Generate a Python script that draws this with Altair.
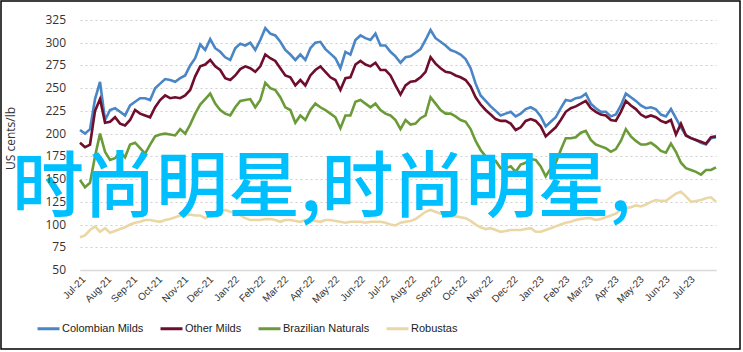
import altair as alt
import pandas as pd

series_names = ["Colombian Milds", "Other Milds", "Brazilian Naturals", "Robustas"]
series_colors = ["#4A86C5", "#6F0E2C", "#6A9B38", "#EBD7A6"]

colombian = [
    204, 200, 205, 238, 257, 215, 226, 228, 224, 220,
    231, 235, 239, 239, 237, 250, 255, 260, 259, 257,
    261, 264, 275, 283, 298, 292, 304, 294, 290, 284,
    281, 294, 299, 297, 300, 292, 303, 316, 310, 308,
    301, 292, 287, 281, 287, 281, 294, 300, 301, 293,
    288, 283, 272, 290, 287, 303, 308, 305, 303, 310,
    297, 297, 290, 285, 278, 284, 285, 289, 293, 303,
    314, 305, 301, 297, 292, 290, 287, 282, 272, 255,
    242, 236, 230, 225, 220, 222, 224, 219, 222, 227,
    229, 226, 219, 208, 213, 218, 228, 237, 236, 239,
    240, 244, 233, 228, 224, 224, 219, 221, 231, 244,
    240, 236, 231, 228, 229, 227, 221, 219, 227, 217,
    207, 198, 195, 193, 190, 188, 195, 196,
]
other_milds = [
    190, 185, 188, 225, 238, 212, 213, 218, 211, 209,
    215, 226, 222, 220, 218, 229, 237, 242, 239, 240,
    239, 242, 248, 263, 274, 276, 281, 274, 270, 261,
    259, 264, 271, 274, 272, 268, 274, 287, 283, 280,
    272, 264, 262, 253, 259, 253, 264, 270, 274, 268,
    262, 259, 248, 261, 262, 276, 280, 276, 274, 278,
    270, 270, 264, 253, 243, 253, 257, 258, 262, 268,
    284, 277, 272, 268, 267, 264, 262, 259, 252, 240,
    232, 226, 221, 216, 214, 214, 211, 204, 207, 214,
    216, 214, 208, 197, 202, 207, 215, 224, 228, 230,
    233, 236, 228, 224, 221, 220, 215, 214, 224, 236,
    231, 227, 221, 218, 220, 218, 214, 212, 215, 199,
    211, 198, 195, 193, 191, 189, 196, 197,
]
brazilian = [
    149, 141, 146, 175, 200, 180, 171, 173, 180, 174,
    188, 190, 184, 178, 188, 197, 199, 200, 199, 198,
    205, 200, 210, 222, 232, 238, 244, 233, 226, 222,
    220, 229, 236, 237, 238, 229, 237, 256, 250, 248,
    240, 229, 226, 212, 220, 215, 226, 233, 229, 226,
    222, 218, 206, 220, 220, 235, 237, 233, 229, 233,
    226, 222, 220, 215, 205, 215, 210, 211, 217, 220,
    240, 233, 226, 222, 222, 219, 215, 213, 205, 192,
    182, 175, 170, 170, 162, 162, 164, 158, 166, 168,
    172, 171, 164, 153, 162, 168, 182, 195, 195, 196,
    201, 203, 193, 188, 186, 184, 180, 183, 192, 205,
    197, 192, 188, 188, 190, 186, 181, 179, 189, 180,
    168, 162, 160, 158, 155, 160, 160, 163,
]
robustas = [
    86, 88, 94, 98, 92, 96, 91, 93, 95, 97,
    100, 102, 103, 105, 105, 104, 103, 105, 106, 108,
    110, 110, 111, 110, 110, 107, 110, 112, 114, 116,
    114, 113, 110, 107, 105, 105, 105, 106, 106, 105,
    103, 105, 105, 104, 103, 105, 105, 104, 103, 105,
    105, 104, 103, 102, 103, 103, 103, 102, 103, 103,
    103, 102, 100, 99, 102, 103, 104, 106, 110, 114,
    116, 114, 112, 112, 110, 109, 108, 107, 104, 100,
    97, 95, 96, 94, 92, 93, 94, 94, 94, 95,
    96, 92, 92, 94, 96, 98, 100, 102, 103, 105,
    106, 107, 107, 105, 106, 108, 110, 112, 116, 118,
    119, 121, 120, 122, 125, 127, 126, 126, 130, 134,
    136, 131, 125, 126, 127, 129, 130, 125,
]

dates = pd.date_range("2021-07-01", periods=len(colombian), freq="6D").strftime("%Y-%m-%d")
tick_months = pd.date_range("2021-07-01", "2023-07-01", freq="MS")
y_ticks = [50, 75, 100, 125, 150, 175, 200, 225, 250, 275, 300, 325]
overlay_text = "时尚明星,时尚明星,"

rows = []
for name, vals in zip(series_names, [colombian, other_milds, brazilian, robustas]):
    for d, v in zip(dates, vals):
        rows.append({"date": d, "series": name, "value": v})
df = pd.DataFrame(rows)

x_enc = alt.X(
    "date:T",
    scale=alt.Scale(
        type="utc",
        domain=[alt.DateTime(year=2021, month=7, date=1, utc=True),
                alt.DateTime(year=2023, month=8, date=2, utc=True)],
    ),
    axis=alt.Axis(
        labelExpr="utcFormat(datum.value, '%b-%y')", labelAngle=-45, labelOverlap=False,
        values=[alt.DateTime(year=t.year, month=t.month, date=1, utc=True) for t in tick_months],
        grid=False, ticks=False, domain=True, domainColor="#D9D9D9", domainWidth=1.5,
        labelFont="Liberation Sans", labelFontSize=10, labelColor="#333333",
        labelPadding=4, title=None,
    ),
)
y_enc = alt.Y(
    "value:Q",
    scale=alt.Scale(domain=[50, 325], nice=False, zero=False),
    axis=alt.Axis(
        values=y_ticks, grid=True, gridColor="#CFCFCF", gridDash=[2, 3], gridWidth=1.2,
        labels=False, ticks=False, domain=False, title="US cents/lb",
        titleFont="Open Sans", titleFontSize=12, titleFontWeight="normal",
        titleColor="#333333", titleX=-70, titleY=118, titleAngle=-90,
        titleAlign="center", titleBaseline="middle",
    ),
)

lines = alt.Chart(df).mark_line(strokeWidth=2.6).encode(
    x=x_enc,
    y=y_enc,
    color=alt.Color(
        "series:N",
        scale=alt.Scale(domain=series_names, range=series_colors),
        legend=alt.Legend(
            orient="none", direction="horizontal", legendX=-44, legendY=296,
            symbolType="stroke", symbolStrokeWidth=3, symbolSize=484,
            labelFont="Liberation Sans", labelFontSize=11, labelColor="#222222",
            columnPadding=10, labelOffset=1, title=None,
        ),
    ),
    order=alt.Order("series:N"),
)

text = alt.Chart(pd.DataFrame({"t": [overlay_text]})).mark_text(
    align="left", baseline="middle", font="Noto Sans CJK SC", fontSize=72,
    fontWeight=500, color="#00BFFF",
).encode(text="t:N", x=alt.value(-68), y=alt.value(169))

y_labels = alt.Chart(pd.DataFrame({"value": y_ticks})).mark_text(
    align="right", baseline="middle", font="Open Sans", fontSize=12, color="#333333",
).encode(y=y_enc, text=alt.Text("value:Q"), x=alt.value(-14))

border = alt.Chart(pd.DataFrame({"a": [0]})).mark_rect(
    filled=False, stroke="#000000", strokeWidth=1.5,
).encode(x=alt.value(-79), x2=alt.value(660), y=alt.value(-19), y2=alt.value(329))

chart = alt.layer(lines, text, y_labels, border).properties(
    width=636, height=250,
    autosize=alt.AutoSizeParams(type="none"),
    padding={"left": 80, "top": 20, "right": 27, "bottom": 82},
).configure_view(stroke="transparent")

chart.save("out.html", embed_options={"renderer": "svg", "actions": False})
